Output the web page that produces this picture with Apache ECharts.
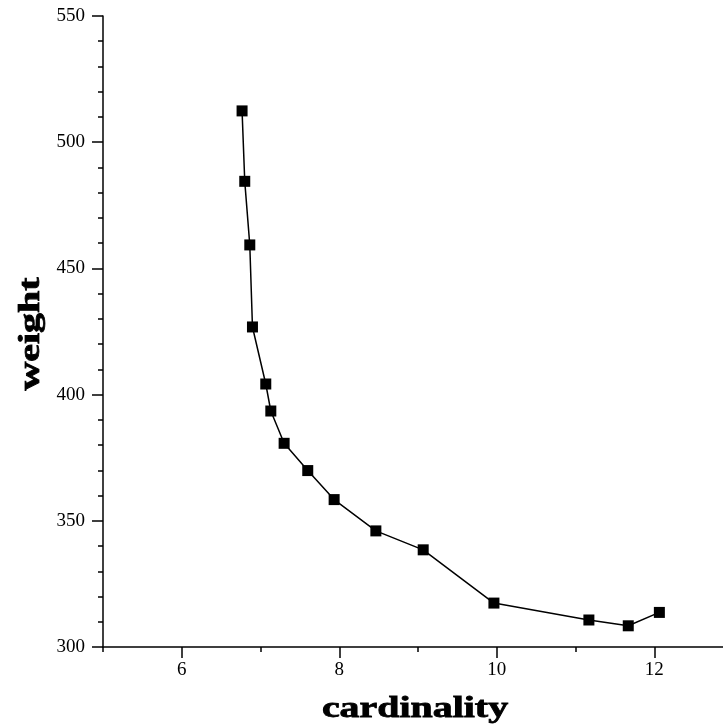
<!DOCTYPE html>
<html>
<head>
<meta charset="utf-8">
<script src="https://cdn.jsdelivr.net/npm/echarts@6/dist/echarts.min.js"></script>
<style>html,body{margin:0;padding:0;background:#fff;overflow:hidden}#c{width:733px;height:725px}</style>
</head>
<body>
<div id="c"></div>
<script>
var cardinality = [6.766, 6.80, 6.864, 6.898, 7.067, 7.131, 7.30, 7.60, 7.935, 8.465, 9.066, 9.964, 11.17, 11.67, 12.065];
var weight = [512.4, 484.5, 459.3, 426.8, 404.2, 393.5, 380.7, 369.9, 358.4, 346.0, 338.5, 317.4, 310.7, 308.4, 313.7];
var xTicks = [6, 8, 10, 12];
var xName = 'cardinality';
var yName = 'weight';

var pts = cardinality.map(function (x, i) { return [x, weight[i]]; });
var chart = echarts.init(document.getElementById('c'), null, {renderer: 'canvas'});
var font = 'Liberation Serif';
var titleFont = 'bold 30px "Liberation Serif"';
chart.setOption({
  animation: false,
  grid: {left: 103, right: 0, top: 16, bottom: 78, containLabel: false, outerBoundsMode: 'none'},
  xAxis: [{
    type: 'value', min: 5, max: 13, interval: 1,
    axisLine: {show: true, onZero: false, lineStyle: {color: '#000', width: 1.5}},
    axisTick: {show: true, inside: false, length: 5, lineStyle: {color: '#000', width: 1.5}},
    axisLabel: {fontFamily: font, fontSize: 19, color: '#000', margin: 14,
      formatter: function (v) { return xTicks.indexOf(v) >= 0 ? String(v) : ''; }},
    splitLine: {show: false}
  }, {
    type: 'value', min: 5, max: 13, position: 'bottom',
    axisLine: {show: false, onZero: false},
    axisTick: {show: true, inside: false, length: 11, customValues: xTicks, lineStyle: {color: '#000', width: 1.5}},
    axisLabel: {show: false},
    splitLine: {show: false}
  }],
  yAxis: {
    type: 'value', min: 300, max: 550, interval: 50,
    axisLine: {show: true, onZero: false, lineStyle: {color: '#000', width: 1.5}},
    axisTick: {show: true, inside: false, length: 11, lineStyle: {color: '#000', width: 1.5}},
    minorTick: {show: true, splitNumber: 5, length: 5, lineStyle: {color: '#000', width: 1.5}},
    axisLabel: {fontFamily: font, fontSize: 19, color: '#000', margin: 18},
    splitLine: {show: false}
  },
  graphic: [
    {type: 'text', x: 415, y: 709, scaleX: 1.33, scaleY: 1,
     style: {text: xName, font: titleFont, fill: '#000', stroke: '#000', lineWidth: 0.8, textAlign: 'center', textVerticalAlign: 'middle'}},
    {type: 'text', x: 31, y: 334, rotation: Math.PI / 2, scaleX: 1.33, scaleY: 1,
     style: {text: yName, font: titleFont, fill: '#000', stroke: '#000', lineWidth: 0.8, textAlign: 'center', textVerticalAlign: 'middle'}}
  ],
  series: [{
    type: 'line', data: pts, xAxisIndex: 0,
    symbol: 'rect', symbolSize: 11,
    itemStyle: {color: '#000'},
    lineStyle: {color: '#000', width: 1.5}
  }]
});
</script>
</body>
</html>
